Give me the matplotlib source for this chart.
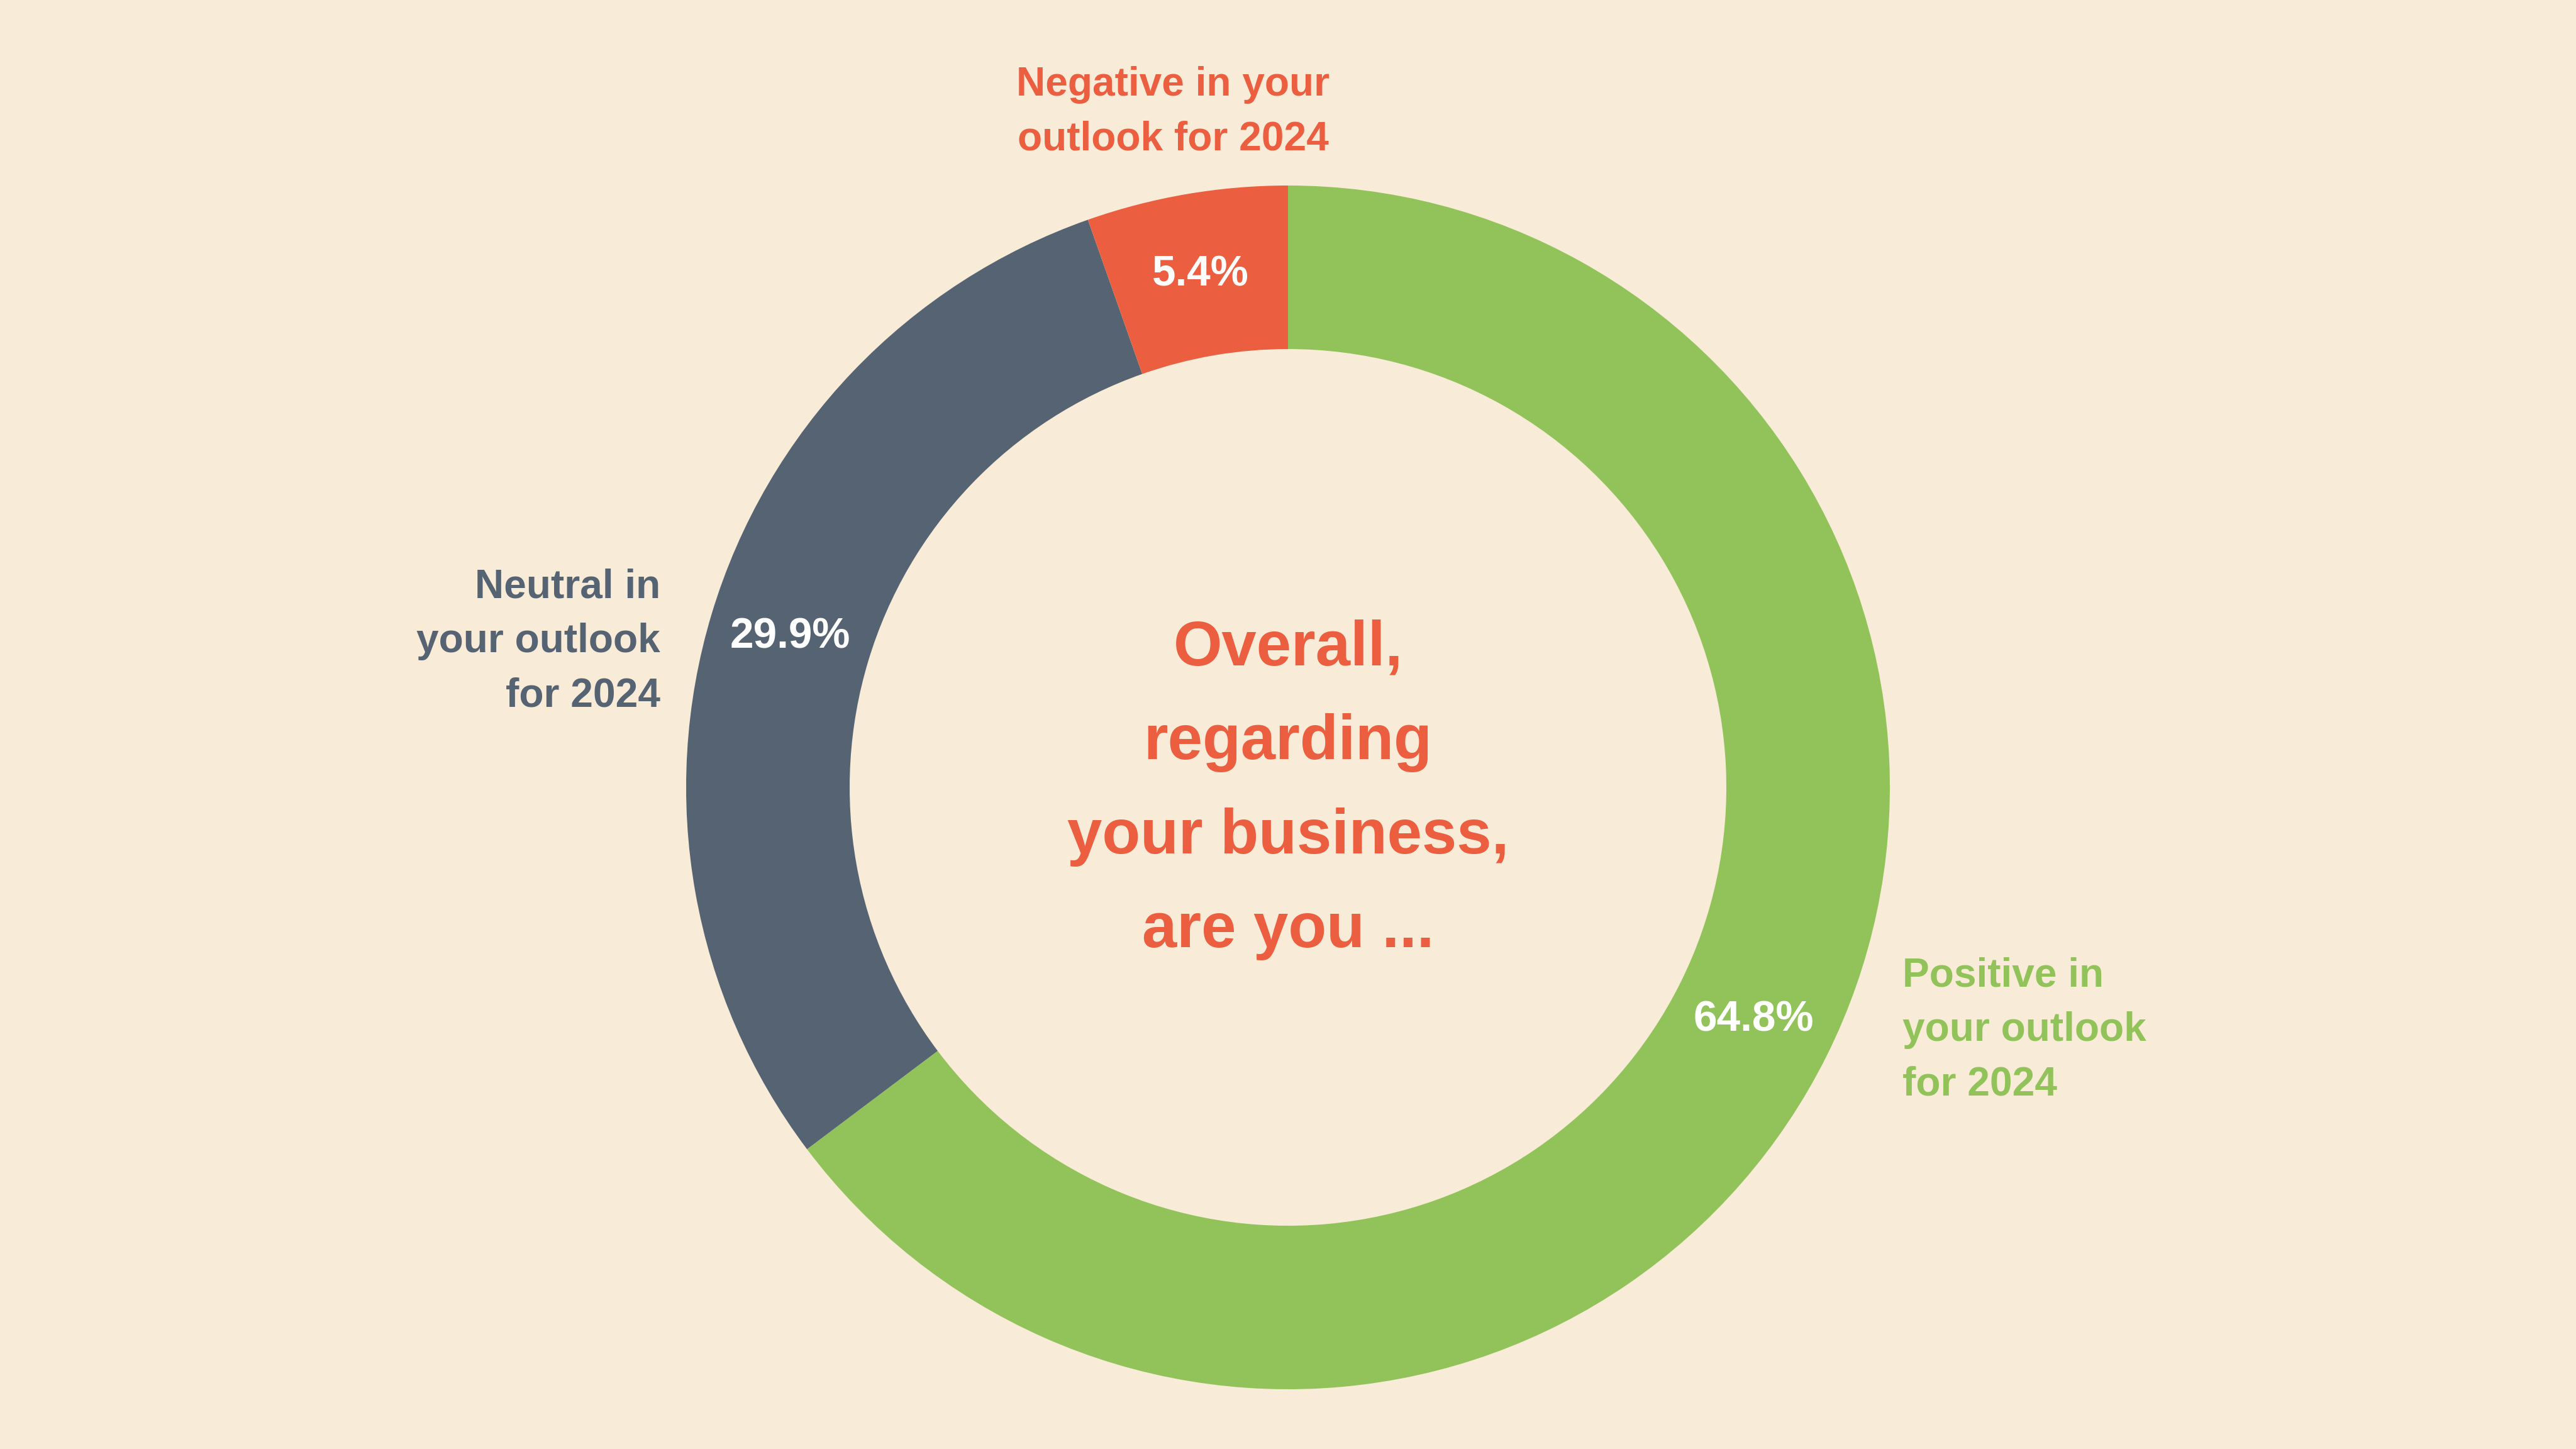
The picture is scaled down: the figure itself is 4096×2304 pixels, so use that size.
import matplotlib
matplotlib.use("Agg")
import matplotlib.pyplot as plt
from matplotlib import font_manager as fm

# survey answers, going clockwise from 12 o'clock
categories = ["Positive in\nyour outlook\nfor 2024",
              "Neutral in\nyour outlook\nfor 2024",
              "Negative in your\noutlook for 2024"]
shares = [64.8, 29.9, 5.4]
colors = ["#92C35A", "#566372", "#EB5E40"]
question = "Overall,\nregarding\nyour business,\nare you ..."

BG = "#F8ECD8"
names = {f.name for f in fm.fontManager.ttflist}
if "Liberation Sans Narrow" in names:
    center_font, center_size = "Liberation Sans Narrow", 34
else:
    center_font, center_size = "Liberation Sans", 28

fig = plt.figure(figsize=(16, 9), dpi=256, facecolor=BG)
ax = fig.add_axes([0, 0, 1, 1])
ax.set_facecolor(BG)

# work in pixel units so placement is easy to compare
cx, cy, R = 2048, 1052, 957
pct_labels = [f"{v:.1f}%" for v in shares]
wedges, texts = ax.pie(
    shares, colors=colors, startangle=90, counterclock=False,
    center=(cx, cy), radius=R,
    wedgeprops=dict(width=260, linewidth=0),
    labels=pct_labels, labeldistance=0.864,
    textprops=dict(color="white", fontsize=19, fontweight="bold",
                   family="Liberation Sans"))
for t in texts:
    t.set_ha("center")
    t.set_va("center")
ax.set_xlim(0, 4096)
ax.set_ylim(0, 2304)
ax.set_aspect("equal")
ax.axis("off")

lab = dict(fontsize=18, fontweight="bold", family="Liberation Sans",
           linespacing=1.56, va="center")
ax.text(3025, 2304 - 1638, categories[0], color=colors[0], ha="left", **lab)
ax.text(1050, 2304 - 1020, categories[1], color=colors[1], ha="right",
        multialignment="right", **lab)
ax.text(1865, 2304 - 178, categories[2], color=colors[2], ha="center",
        multialignment="center", **lab)

ax.text(cx, 2304 - 1256, question, color=colors[2], ha="center", va="center",
        multialignment="center", fontsize=center_size, fontweight="bold",
        family=center_font, linespacing=1.76)

fig.savefig("out.png", dpi=256, facecolor=BG)
